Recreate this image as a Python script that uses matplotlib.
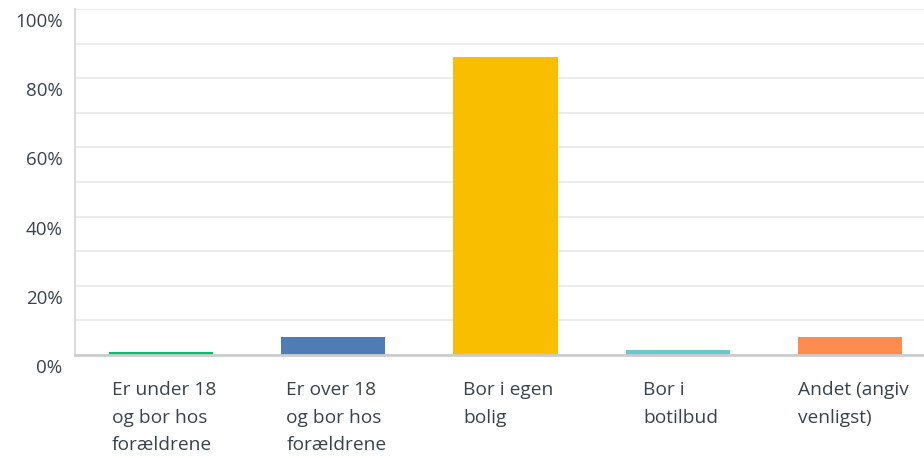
import matplotlib
matplotlib.use("Agg")
import matplotlib.pyplot as plt
import matplotlib.transforms as mtransforms
from matplotlib.ticker import MultipleLocator, FuncFormatter

# data
kategorier = ["Er under 18\nog bor hos\nforældrene",
              "Er over 18\nog bor hos\nforældrene",
              "Bor i egen\nbolig",
              "Bor i\nbotilbud",
              "Andet (angiv\nvenligst)"]
procent = [0.9, 5.2, 86.1, 1.4, 5.2]
farver = ["#00bf6f", "#507cb6", "#f9be00", "#6bc8cd", "#ff8b4f"]

tekstfarve = "#39434d"
plt.rcParams['font.family'] = ['Open Sans', 'DejaVu Sans']

fig = plt.figure(figsize=(9.24, 4.58), dpi=100)
ax = fig.add_axes([75/924, 103/458, 1 - 75/924, (355 - 9)/458])

x = list(range(len(kategorier)))
ax.bar(x, procent, width=0.605, color=farver, zorder=3)

# plot area runs a bit past the right edge of the picture
ax.set_xlim(-0.5, 4.5 - 12/172)
ax.set_ylim(0, 100)

ax.yaxis.set_major_locator(MultipleLocator(20))
ax.yaxis.set_minor_locator(MultipleLocator(10))
ax.yaxis.set_major_formatter(FuncFormatter(lambda v, p: f"{v:.0f}%"))
ax.grid(axis='y', which='both', color='#ececec', linewidth=1.5, zorder=0)

ax.set_xticks(x)
ax.set_xticklabels(kategorier, ha='center', multialignment='left',
                   linespacing=1.68, fontsize=13.8, color=tekstfarve)
ax.tick_params(axis='x', length=0, pad=19)
ax.tick_params(axis='y', which='both', length=0, pad=9, labelsize=13.5, labelcolor=tekstfarve)

# y labels sit a bit below their gridlines
forskyv = mtransforms.ScaledTranslation(0, -11/100, fig.dpi_scale_trans)
for lbl in ax.get_yticklabels():
    lbl.set_transform(lbl.get_transform() + forskyv)
xforskyv = mtransforms.ScaledTranslation(3/100, 0, fig.dpi_scale_trans)
for lbl in ax.get_xticklabels():
    lbl.set_transform(lbl.get_transform() + xforskyv)

for s in ['top', 'right']:
    ax.spines[s].set_visible(False)
ax.spines['left'].set_color('#dcdcdc')
ax.spines['left'].set_linewidth(1.5)
ax.spines['bottom'].set_color('#cccccc')
ax.spines['bottom'].set_linewidth(2)
ax.spines['bottom'].set_zorder(4)

fig.savefig("out.png", dpi=100, facecolor='white')
